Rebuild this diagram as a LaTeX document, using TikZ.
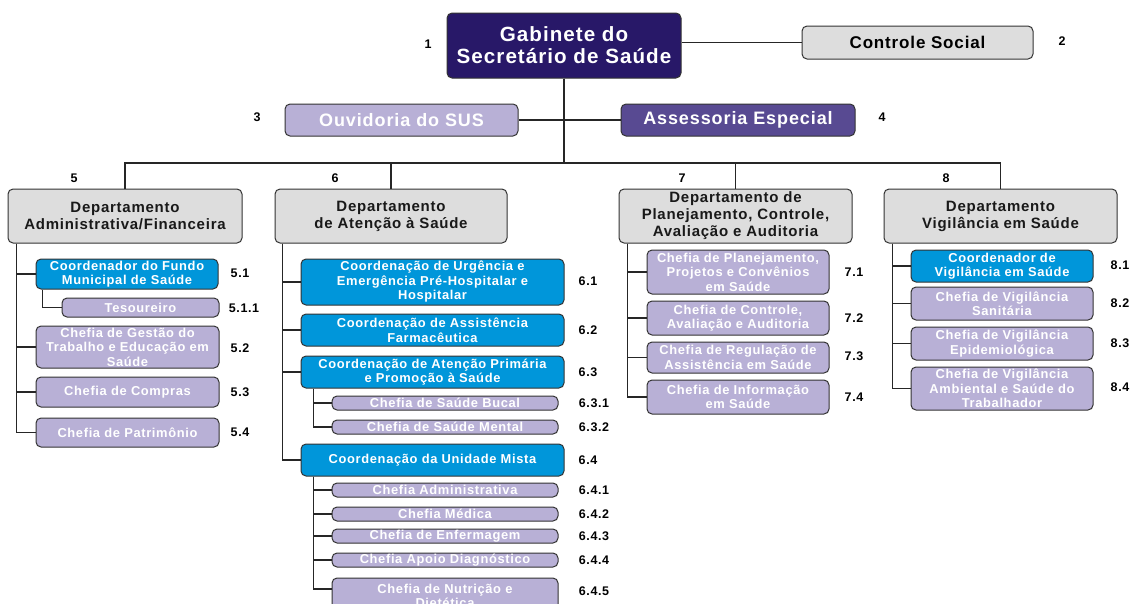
\documentclass[tikz,border=0pt]{standalone}
\usepackage{fontspec}
\setmainfont{Liberation Sans}[LetterSpace=5]
\definecolor{gabcol}{RGB}{40,24,104}
\definecolor{asscol}{RGB}{88,74,146}
\definecolor{lavcol}{RGB}{184,176,214}
\definecolor{bluecol}{RGB}{0,150,218}
\definecolor{graycol}{RGB}{221,221,221}
\tikzset{
    box/.style={draw=black!80, line width=1pt, rounded corners=5pt, align=center,
        inner sep=0pt, font=\bfseries\fontsize{12.9}{14.5}\selectfont},
    lavbox/.style={box, fill=lavcol, text=white},
    bluebox/.style={box, fill=bluecol, text=white},
    deptbox/.style={box, fill=graycol, text=black!90, font=\bfseries\fontsize{15}{17}\selectfont},
    num/.style={font=\bfseries\fontsize{12.5}{14}\selectfont, inner sep=0pt},
    link/.style={line width=1.6pt, black!85}
}
\begin{document}
\begin{tikzpicture}[x=1pt, y=-1pt]
    \useasboundingbox (0, 0) rectangle (1131, 603);

    % topo
    \node[box, fill=gabcol, text=white, minimum width=234, minimum height=65,
        font=\bfseries\fontsize{20.6}{22}\selectfont] (gab) at (564, 45.5) {Gabinete do\\Secretário de Saúde};
    \node[box, fill=graycol, minimum width=231, minimum height=33,
        font=\bfseries\fontsize{17}{18}\selectfont] (ctrl) at (917.5, 42.5) {Controle Social};
    \node[lavbox, minimum width=233, minimum height=32,
        font=\bfseries\fontsize{18}{19}\selectfont] (ouv) at (401.5, 120) {Ouvidoria do SUS};
    \node[box, fill=asscol, text=white, minimum width=234, minimum height=32,
        font=\bfseries\fontsize{18}{19}\selectfont] (ass) at (738, 120) {Assessoria Especial};

    \node[num] (n1) at (428, 44) {1};
    \node[num] (n2) at (1062, 41) {2};
    \node[num] (n3) at (257, 117) {3};
    \node[num] (n4) at (882, 117) {4};

    % departamentos
    \node[deptbox, minimum width=234, minimum height=54] (d5) at (125, 216) {Departamento\\Administrativa/Financeira};
    \node[deptbox, minimum width=232, minimum height=54] (d6) at (391, 216) {Departamento\\de Atenção à Saúde};
    \node[deptbox, minimum width=233, minimum height=54] (d7) at (735.5, 216) {Departamento de\\Planejamento, Controle,\\Avaliação e Auditoria};
    \node[deptbox, minimum width=233, minimum height=54] (d8) at (1000.5, 216) {Departamento\\Vigilância em Saúde};

    \node[num] (n5) at (74, 178) {5};
    \node[num] (n6) at (335, 178) {6};
    \node[num] (n7) at (682, 178) {7};
    \node[num] (n8) at (946, 178) {8};

    % coluna 5
    \node[bluebox, minimum width=182, minimum height=30] (c51) at (127, 274) {Coordenador do Fundo\\Municipal de Saúde};
    \node[lavbox, minimum width=157, minimum height=19] (c511) at (140.5, 307.5) {Tesoureiro};
    \node[lavbox, minimum width=183, minimum height=42] (c52) at (127.5, 347) {Chefia de Gestão do\\Trabalho e Educação em\\Saúde};
    \node[lavbox, minimum width=183, minimum height=30] (c53) at (127.5, 392) {Chefia de Compras};
    \node[lavbox, minimum width=183, minimum height=29] (c54) at (127.5, 432.5) {Chefia de Patrimônio};

    \node[num] (l51) at (240, 273) {5.1};
    \node[num] (l511) at (244, 308) {5.1.1};
    \node[num] (l52) at (240, 348) {5.2};
    \node[num] (l53) at (240, 392) {5.3};
    \node[num] (l54) at (240, 432) {5.4};

    % coluna 6
    \node[bluebox, minimum width=263, minimum height=46] (c61) at (432.5, 282) {Coordenação de Urgência e\\Emergência Pré-Hospitalar e\\Hospitalar};
    \node[bluebox, minimum width=263, minimum height=32] (c62) at (432.5, 330) {Coordenação de Assistência\\Farmacêutica};
    \node[bluebox, minimum width=263, minimum height=32] (c63) at (432.5, 372) {Coordenação de Atenção Primária\\e Promoção à Saúde};
    \node[lavbox, minimum width=226, minimum height=14] (c631) at (445, 403) {Chefia de Saúde Bucal};
    \node[lavbox, minimum width=226, minimum height=14] (c632) at (445, 427) {Chefia de Saúde Mental};
    \node[bluebox, minimum width=263, minimum height=32] (c64) at (432.5, 460) {Coordenação da Unidade Mista};
    \node[lavbox, minimum width=226, minimum height=14] (c641) at (445, 490) {Chefia Administrativa};
    \node[lavbox, minimum width=226, minimum height=14] (c642) at (445, 514) {Chefia Médica};
    \node[lavbox, minimum width=226, minimum height=14] (c643) at (445, 536) {Chefia de Enfermagem};
    \node[lavbox, minimum width=226, minimum height=14] (c644) at (445, 560) {Chefia Apoio Diagnóstico};
    \node[lavbox, minimum width=226, minimum height=36] (c645) at (445, 596) {Chefia de Nutrição e\\Dietética};

    \node[num] (l61) at (588, 281) {6.1};
    \node[num] (l62) at (588, 330) {6.2};
    \node[num] (l63) at (588, 372) {6.3};
    \node[num] (l631) at (594, 403) {6.3.1};
    \node[num] (l632) at (594, 427) {6.3.2};
    \node[num] (l64) at (588, 460) {6.4};
    \node[num] (l641) at (594, 490) {6.4.1};
    \node[num] (l642) at (594, 514) {6.4.2};
    \node[num] (l643) at (594, 536) {6.4.3};
    \node[num] (l644) at (594, 560) {6.4.4};
    \node[num] (l645) at (594, 591) {6.4.5};

    % coluna 7
    \node[lavbox, minimum width=182, minimum height=44] (c71) at (738, 272) {Chefia de Planejamento,\\Projetos e Convênios\\em Saúde};
    \node[lavbox, minimum width=182, minimum height=34] (c72) at (738, 318) {Chefia de Controle,\\Avaliação e Auditoria};
    \node[lavbox, minimum width=182, minimum height=31] (c73) at (738, 357.5) {Chefia de Regulação de\\Assistência em Saúde};
    \node[lavbox, minimum width=182, minimum height=34] (c74) at (738, 397) {Chefia de Informação\\em Saúde};

    \node[num] (l71) at (854, 272) {7.1};
    \node[num] (l72) at (854, 318) {7.2};
    \node[num] (l73) at (854, 356) {7.3};
    \node[num] (l74) at (854, 397) {7.4};

    % coluna 8
    \node[bluebox, minimum width=182, minimum height=32] (c81) at (1002, 266) {Coordenador de\\Vigilância em Saúde};
    \node[lavbox, minimum width=182, minimum height=33] (c82) at (1002, 303.5) {Chefia de Vigilância\\Sanitária};
    \node[lavbox, minimum width=182, minimum height=33] (c83) at (1002, 343.5) {Chefia de Vigilância\\Epidemiológica};
    \node[lavbox, minimum width=182, minimum height=43] (c84) at (1002, 388.5) {Chefia de Vigilância\\Ambiental e Saúde do\\Trabalhador};

    \node[num] (l81) at (1120, 265) {8.1};
    \node[num] (l82) at (1120, 303) {8.2};
    \node[num] (l83) at (1120, 343) {8.3};
    \node[num] (l84) at (1120, 387) {8.4};

    % ligacoes
    \coordinate (bus) at (564, 163);
    \draw[link] (ctrl.west -| gab.east) -- (ctrl.west);
    \draw[link] (gab.south) -- (bus);
    \draw[link] (gab.south) |- (ouv.east);
    \draw[link] (gab.south) |- (ass.west);
    \draw[link] (bus) -| (d5.north);
    \draw[link] (bus) -| (d6.north);
    \draw[link] (bus) -| (d7.north);
    \draw[link] (bus) -| (d8.north);

    \draw[link] ([xshift=9pt]d5.south west) |- (c51.west);
    \draw[link] ([xshift=9pt]d5.south west) |- (c52.west);
    \draw[link] ([xshift=9pt]d5.south west) |- (c53.west);
    \draw[link] ([xshift=9pt]d5.south west) |- (c54.west);
    \draw[link] ([xshift=7pt]c51.south west) |- (c511.west);

    \draw[link] ([xshift=8pt]d6.south west) |- (c61.west);
    \draw[link] ([xshift=8pt]d6.south west) |- (c62.west);
    \draw[link] ([xshift=8pt]d6.south west) |- (c63.west);
    \draw[link] ([xshift=8pt]d6.south west) |- (c64.west);
    \draw[link] ([xshift=13pt]c63.south west) |- (c631.west);
    \draw[link] ([xshift=13pt]c63.south west) |- (c632.west);
    \draw[link] ([xshift=13pt]c64.south west) |- (c641.west);
    \draw[link] ([xshift=13pt]c64.south west) |- (c642.west);
    \draw[link] ([xshift=13pt]c64.south west) |- (c643.west);
    \draw[link] ([xshift=13pt]c64.south west) |- (c644.west);
    \draw[link] ([xshift=13pt]c64.south west) |- ([yshift=7pt]c645.west);

    \draw[link] ([xshift=9pt]d7.south west) |- (c71.west);
    \draw[link] ([xshift=9pt]d7.south west) |- (c72.west);
    \draw[link] ([xshift=9pt]d7.south west) |- (c73.west);
    \draw[link] ([xshift=9pt]d7.south west) |- (c74.west);

    \draw[link] ([xshift=9pt]d8.south west) |- (c81.west);
    \draw[link] ([xshift=9pt]d8.south west) |- (c82.west);
    \draw[link] ([xshift=9pt]d8.south west) |- (c83.west);
    \draw[link] ([xshift=9pt]d8.south west) |- (c84.west);
\end{tikzpicture}
\end{document}
